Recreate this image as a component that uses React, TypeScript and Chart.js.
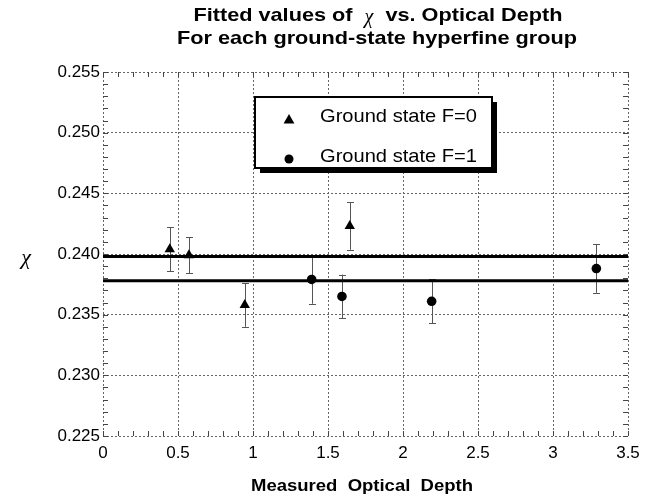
import React, { useEffect, useRef } from 'react';
import { Chart, registerables } from 'chart.js';

Chart.register(...registerables);

// ---- data ----
const depthF0 = [0.445, 0.573, 0.945, 1.645];
const chiF0 = [0.2404, 0.2399, 0.2358, 0.2423];
const errF0 = [0.0018, 0.0015, 0.0018, 0.00195];

const depthF1 = [1.391, 1.593, 2.191, 3.289];
const chiF1 = [0.2379, 0.2365, 0.2361, 0.2388];
const errF1 = [0.002, 0.0018, 0.0018, 0.002];

const fitLevels = [0.2398, 0.2378];
const xRange = [0, 3.5];
const yRange = [0.225, 0.255];

const xTickLabels = ['0', '0.5', '1', '1.5', '2', '2.5', '3', '3.5'];
const yTickLabels = ['0.225', '0.230', '0.235', '0.240', '0.245', '0.250', '0.255'];

const seriesLabels = ['Ground state F=0', 'Ground state F=1'];
const titleLine1 = ['Fitted values of', 'χ', 'vs. Optical Depth'];
const titleLine2 = 'For each ground-state hyperfine group';
const xAxisTitle = 'Measured  Optical  Depth';
const yAxisTitle = 'χ';

const SANS = '"Liberation Sans", Arial, Helvetica, sans-serif';
const SERIF = '"Liberation Serif", "Times New Roman", serif';

function stretchText(ctx: CanvasRenderingContext2D, text: string, x: number, y: number, font: string, width: number | null, align: CanvasTextAlign) {
  ctx.save();
  ctx.font = font;
  ctx.textBaseline = 'middle';
  ctx.textAlign = align;
  ctx.fillStyle = '#000';
  const w = ctx.measureText(text).width;
  const sx = width ? width / w : 1;
  ctx.translate(x, y);
  ctx.scale(sx, 1);
  ctx.fillText(text, 0, 0);
  ctx.restore();
}

function triangle(ctx: CanvasRenderingContext2D, x: number, y: number, r: number) {
  ctx.beginPath();
  ctx.moveTo(x, y - r);
  ctx.lineTo(x + r * 0.9, y + r * 0.6);
  ctx.lineTo(x - r * 0.9, y + r * 0.6);
  ctx.closePath();
  ctx.fill();
}

const decorPlugin = {
  id: 'decor',
  beforeDatasetsDraw(chart: any) {
    const { ctx, chartArea: a, scales } = chart;
    const xs = scales.x;
    const ys = scales.y;
    ctx.save();
    ctx.strokeStyle = '#444';
    ctx.lineWidth = 1;
    // minor ticks, inward on all four sides
    for (let i = 0; i <= 35; i++) {
      const px = Math.round(xs.getPixelForValue(i / 10)) + 0.5;
      ctx.beginPath();
      ctx.moveTo(px, a.bottom);
      ctx.lineTo(px, a.bottom - 5);
      ctx.moveTo(px, a.top);
      ctx.lineTo(px, a.top + 5);
      ctx.stroke();
    }
    for (let i = 225; i <= 255; i++) {
      const py = Math.round(ys.getPixelForValue(i / 1000)) + 0.5;
      ctx.beginPath();
      ctx.moveTo(a.left, py);
      ctx.lineTo(a.left + 5, py);
      ctx.moveTo(a.right, py);
      ctx.lineTo(a.right - 5, py);
      ctx.stroke();
    }
    // error bars
    ctx.strokeStyle = '#555';
    const bars = [
      [depthF0, chiF0, errF0],
      [depthF1, chiF1, errF1],
    ];
    bars.forEach(([dx, cy, er]) => {
      dx.forEach((d: number, k: number) => {
        const px = Math.round(xs.getPixelForValue(d)) + 0.5;
        const top = ys.getPixelForValue(cy[k] + er[k]);
        const bot = ys.getPixelForValue(cy[k] - er[k]);
        ctx.beginPath();
        ctx.moveTo(px, top);
        ctx.lineTo(px, bot);
        ctx.moveTo(px - 3.5, Math.round(top) + 0.5);
        ctx.lineTo(px + 3.5, Math.round(top) + 0.5);
        ctx.moveTo(px - 3.5, Math.round(bot) + 0.5);
        ctx.lineTo(px + 3.5, Math.round(bot) + 0.5);
        ctx.stroke();
      });
    });
    ctx.restore();
  },
  afterDraw(chart: any) {
    const { ctx } = chart;
    ctx.save();
    // titles: one common horizontal stretch, taken from line 2
    const boldT = 'bold 19px ' + SANS;
    ctx.font = boldT;
    const line2W = 400;
    const sx = line2W / ctx.measureText(titleLine2).width;
    const w1 = ctx.measureText(titleLine1[0]).width * sx;
    const w3 = ctx.measureText(titleLine1[2]).width * sx;
    const gap = ctx.measureText('  ').width * sx;
    ctx.font = 'italic 20px ' + SERIF;
    const wc = ctx.measureText(titleLine1[1]).width;
    const total = w1 + gap + wc + gap + w3;
    const start = 378 - total / 2;
    stretchText(ctx, titleLine1[0], start, 16, boldT, w1, 'left');
    stretchText(ctx, titleLine1[1], start + w1 + gap + wc / 2, 18, 'italic 20px ' + SERIF, null, 'center');
    stretchText(ctx, titleLine1[2], start + w1 + gap + wc + gap, 16, boldT, w3, 'left');
    stretchText(ctx, titleLine2, 377, 39, boldT, line2W, 'center');
    stretchText(ctx, xAxisTitle, 362, 487, 'bold 16px ' + SANS, 222, 'center');
    stretchText(ctx, yAxisTitle, 26, 258, 'italic 22px ' + SERIF, null, 'center');

    // legend box with shadow
    const L = 255, T = 97, R = 492, B = 168;
    ctx.fillStyle = '#000';
    ctx.fillRect(L + 5, T + 5, R - L, B - T);
    ctx.fillStyle = '#fff';
    ctx.fillRect(L, T, R - L, B - T);
    ctx.strokeStyle = '#000';
    ctx.lineWidth = 2;
    ctx.strokeRect(L, T, R - L, B - T);
    ctx.fillStyle = '#000';
    triangle(ctx, 289, 120, 6);
    ctx.beginPath();
    ctx.arc(289, 159, 4.5, 0, Math.PI * 2);
    ctx.fill();
    stretchText(ctx, seriesLabels[0], 320, 117, '19px ' + SANS, 157, 'left');
    stretchText(ctx, seriesLabels[1], 320, 157, '19px ' + SANS, 157, 'left');
    ctx.restore();
  },
};

export default function App() {
  const ref = useRef<HTMLCanvasElement | null>(null);
  useEffect(() => {
    if (!ref.current) return;
    const fitColor = '#000';
    const chart = new Chart(ref.current, {
      type: 'scatter',
      data: {
        datasets: [
          {
            label: seriesLabels[0],
            data: depthF0.map((x, i) => ({ x, y: chiF0[i] })),
            pointStyle: 'triangle',
            pointRadius: 6,
            backgroundColor: '#000',
            borderColor: '#000',
            borderWidth: 0,
          },
          {
            label: seriesLabels[1],
            data: depthF1.map((x, i) => ({ x, y: chiF1[i] })),
            pointStyle: 'circle',
            pointRadius: 4.8,
            backgroundColor: '#000',
            borderColor: '#000',
            borderWidth: 0,
          },
          ...fitLevels.map((lv, i) => ({
            type: 'line' as const,
            label: 'fit ' + i,
            data: [
              { x: xRange[0], y: lv },
              { x: xRange[1], y: lv },
            ],
            borderColor: fitColor,
            borderWidth: 3,
            pointRadius: 0,
            showLine: true,
          })),
        ],
      },
      options: {
        responsive: false,
        animation: false,
        layout: { padding: { top: 72, right: 32, bottom: 0, left: 0 } },
        plugins: {
          legend: { display: false },
          tooltip: { enabled: false },
          title: { display: false },
        },
        scales: {
          x: {
            type: 'linear',
            min: xRange[0],
            max: xRange[1],
            afterFit: (s: any) => {
              s.height = 61;
            },
            afterBuildTicks: (s: any) => {
              s.ticks = xTickLabels.map((t) => ({ value: parseFloat(t) }));
            },
            ticks: {
              padding: 7,
              color: '#000',
              font: { family: SANS, size: 17 },
              maxRotation: 0,
              autoSkip: false,
              callback: (_v: any, i: number) => xTickLabels[i],
            },
            grid: { color: '#666', lineWidth: 1, drawTicks: false },
            border: { display: false, dash: [2, 2] },
          },
          y: {
            type: 'linear',
            min: yRange[0],
            max: yRange[1],
            afterFit: (s: any) => {
              s.width = 103;
            },
            afterBuildTicks: (s: any) => {
              s.ticks = yTickLabels.map((t) => ({ value: parseFloat(t) }));
            },
            ticks: {
              padding: 3,
              color: '#000',
              font: { family: SANS, size: 17 },
              autoSkip: false,
              callback: (_v: any, i: number) => yTickLabels[i],
            },
            grid: { color: '#666', lineWidth: 1, drawTicks: false },
            border: { display: false, dash: [2, 2] },
          },
        },
      },
      plugins: [decorPlugin],
    });
    return () => chart.destroy();
  }, []);
  return (
    <div style={{ position: 'absolute', left: 0, top: 0, width: 660, height: 497, background: '#fff' }}>
      <canvas ref={ref} width={660} height={497} />
    </div>
  );
}
